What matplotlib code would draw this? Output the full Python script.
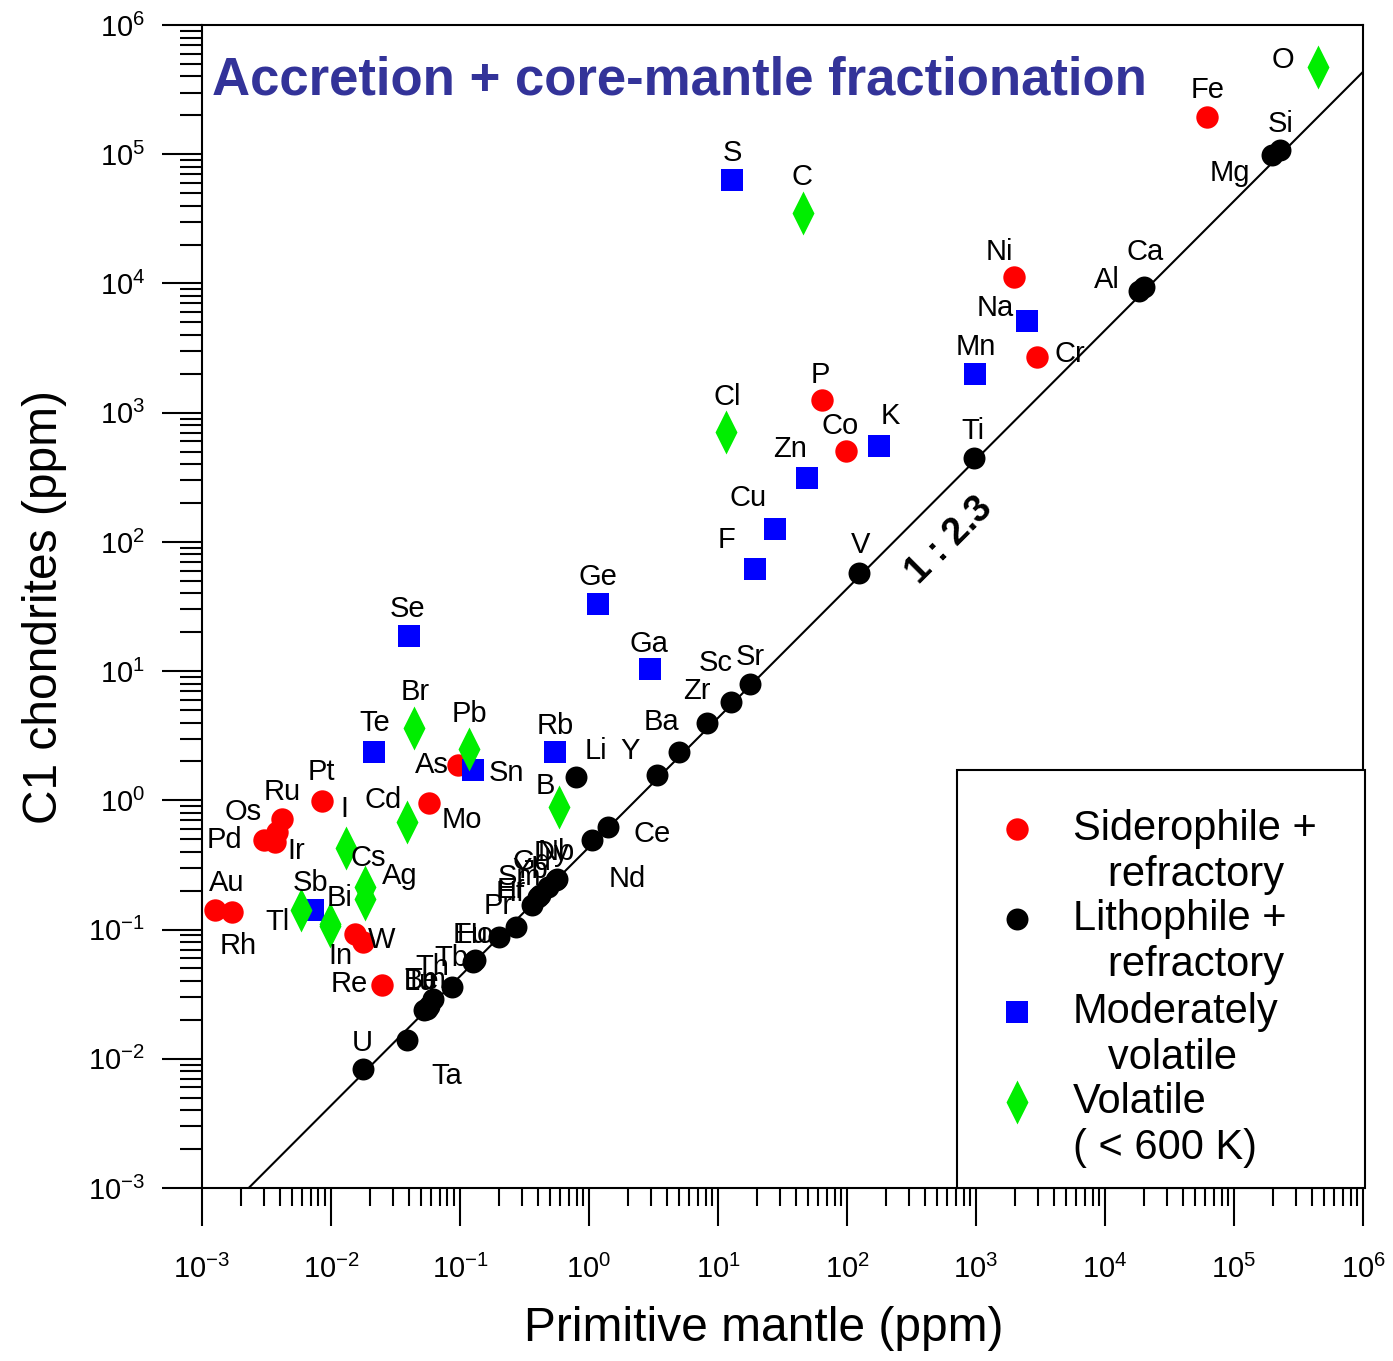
import numpy as np
import matplotlib.pyplot as plt
from matplotlib.path import Path
from matplotlib.patches import Rectangle
from matplotlib.ticker import LogLocator, LogFormatterSciNotation, NullFormatter

plt.rcParams['font.family'] = ['Liberation Sans', 'DejaVu Sans']
plt.rcParams['axes.unicode_minus'] = False

# primitive mantle (x) vs C1 chondrite (y) abundances, ppm
sid_el = ['Fe', 'Ni', 'Cr', 'P', 'Co', 'Mo', 'As', 'Pt', 'Ru', 'Os', 'Pd', 'Ir',
          'Au', 'Rh', 'W', '', 'Re']
sid_pm = [6.2e4, 1970, 2950, 64, 98, 0.058, 0.096, 0.0085, 0.0042, 0.0038, 0.0030,
          0.0037, 0.00126, 0.0017, 0.0154, 0.0178, 0.0247]
sid_c1 = [1.94e5, 1.12e4, 2680, 1250, 507, 0.95, 1.87, 0.99, 0.72, 0.57, 0.49,
          0.48, 0.143, 0.137, 0.093, 0.080, 0.0372]

lit_el = ['Si', 'Mg', 'Ca', 'Al', 'Ti', 'V', 'Sr', 'Sc', 'Zr', 'Ba', 'Y', 'Li',
          'Ce', 'Nd', 'Dy', 'Nb', 'Gd', 'Yb', 'Er', 'Sm', 'Hf', 'Pr', 'Eu', 'Ho',
          'Tb', 'Th', 'Be', 'Tm', 'Lu', 'Ta', 'U']
lit_pm = [2.28e5, 1.97e5, 2.0e4, 1.84e4, 964, 124.5, 17.7, 12.6, 8.16, 4.99, 3.35,
          0.79, 1.41, 1.05, 0.56, 0.55, 0.48, 0.42, 0.40, 0.36, 0.27, 0.20, 0.127,
          0.13, 0.086, 0.062, 0.055, 0.057, 0.053, 0.0386, 0.0178]
lit_c1 = [1.08e5, 9.87e4, 9370, 8730, 443, 57, 7.93, 5.79, 3.98, 2.38, 1.57, 1.52,
          0.617, 0.492, 0.248, 0.24, 0.214, 0.185, 0.178, 0.154, 0.105, 0.088,
          0.0563, 0.058, 0.036, 0.029, 0.0245, 0.0255, 0.024, 0.0141, 0.0084]

mod_el = ['S', 'Na', 'Mn', 'K', 'Zn', 'Cu', 'F', 'Ge', 'Ga', 'Rb', 'Sn', 'Te',
          'Se', 'Sb']
mod_pm = [12.9, 2480, 988, 177, 49, 27.8, 19.5, 1.17, 2.97, 0.545, 0.125, 0.0216,
          0.040, 0.0073]
mod_c1 = [63100, 5120, 2010, 555, 313, 127, 61.2, 33, 10.3, 2.35, 1.73, 2.35,
          18.7, 0.143]

vol_el = ['O', 'C', 'Cl', 'Br', 'Pb', 'B', 'Cd', 'I', 'Cs', 'Ag', 'Tl', 'Bi', 'In']
vol_pm = [4.5e5, 45.8, 11.5, 0.044, 0.118, 0.589, 0.039, 0.013, 0.0184, 0.0184,
          0.00585, 0.0098, 0.0099]
vol_c1 = [4.75e5, 34900, 711, 3.6, 2.48, 0.89, 0.682, 0.431, 0.214, 0.171, 0.141,
          0.110, 0.106]

ratio = 2.3

# label offsets from the marker, in pixels (dx, dy)
offsets = {
    'Fe': (0, 27), 'O': (-35, 7), 'Si': (0, 26), 'Mg': (-42, -18), 'Ni': (-15, 25),
    'Ca': (1, 35), 'Al': (-32, 11), 'Na': (-32, 13), 'Cr': (33, 3), 'Mn': (0, 27),
    'P': (-2, 25), 'Co': (-6, 25), 'K': (11, 30), 'Cl': (1, 35), 'Zn': (-17, 29),
    'Cu': (-27, 31), 'F': (-29, 29), 'Ti': (-1, 27), 'V': (1, 28), 'S': (0, 27),
    'C': (-1, 36), 'Ge': (0, 27), 'Ga': (-1, 25), 'Se': (-1, 27), 'Sc': (-15, 39),
    'Sr': (0, 27), 'Zr': (-10, 32), 'Ba': (-18, 30), 'Y': (-27, 24), 'Li': (20, 26),
    'Rb': (0, 26), 'B': (-14, 21), 'Br': (1, 36), 'Te': (1, 29), 'Pb': (0, 35),
    'As': (-26, 0), 'Sn': (34, -3), 'Cd': (-24, 22), 'Mo': (32, -17), 'Pt': (-1, 29),
    'Ru': (0, 27), 'Os': (-34, 20), 'Pd': (-39, 0), 'Ir': (21, -9), 'I': (-1, 39),
    'Cs': (3, 29), 'Ag': (35, 23), 'Au': (12, 27), 'Rh': (6, -34), 'Sb': (-3, 27),
    'Tl': (-23, -12), 'Bi': (10, 26), 'W': (26, -6), 'In': (10, -30), 'Re': (-32, 1),
    'U': (-1, 26), 'Ta': (40, -36), 'Ce': (44, -7), 'Nd': (36, -39), 'Dy': (-5, 26),
    'Nb': (1, 28), 'Gd': (-16, 25), 'Yb': (-10, 25), 'Er': (-26, 7), 'Sm': (-12, 28),
    'Hf': (-5, 34), 'Pr': (-1, 31), 'Eu': (-3, 27), 'Ho': (1, 25), 'Tb': (0, 29),
    'Th': (-1, 32), 'Be': (-5, 28), 'Tm': (-3, 26), 'Lu': (-5, 28),
}

fig = plt.figure(figsize=(13.93, 13.61), dpi=100)
ax = fig.add_axes([0.145, 0.1271, 0.8335, 0.8545])
ax.set_xscale('log')
ax.set_yscale('log')
ax.set_xlim(1e-3, 1e6)
ax.set_ylim(1e-3, 1e6)

# 1:2.3 reference line
xl = np.array([ratio * 1e-3, 1e6])
ax.plot(xl, xl / ratio, color='black', lw=1.5, zorder=1)

diamond = Path([(0, 1), (0.5, 0), (0, -1), (-0.5, 0), (0, 1)],
               [Path.MOVETO, Path.LINETO, Path.LINETO, Path.LINETO, Path.CLOSEPOLY])

groups = [
    (sid_el, sid_pm, sid_c1, '#ff0000', 'o', 260),
    (lit_el, lit_pm, lit_c1, '#000000', 'o', 250),
    (mod_el, mod_pm, mod_c1, '#0000ff', 's', 250),
    (vol_el, vol_pm, vol_c1, '#00ee00', diamond, 1000),
]
for z, (els, xs, ys, col, mk, sz) in enumerate(groups):
    ax.scatter(xs, ys, s=sz, c=col, marker=mk, linewidths=0, zorder=2 + z)
    for el, x, y in zip(els, xs, ys):
        if not el:
            continue
        dx, dy = offsets[el]
        ax.annotate(el, (x, y), xytext=(dx, dy), textcoords='offset pixels',
                    ha='center', va='center', fontsize=21, zorder=7)

ax.text(0.644, 0.557, '1 : 2.3', transform=ax.transAxes, rotation=45,
        rotation_mode='anchor', ha='center', va='center', fontsize=27,
        fontweight='bold')

ax.text(0.0086, 0.9527, 'Accretion + core-mantle fractionation',
        transform=ax.transAxes, ha='left', va='center', fontsize=38,
        fontweight='bold', color='#333399')

# axes styling
for sp in ax.spines.values():
    sp.set_linewidth(1.5)
for axis in (ax.xaxis, ax.yaxis):
    axis.set_major_locator(LogLocator(base=10, numticks=20))
    axis.set_minor_locator(LogLocator(base=10, subs=np.arange(2, 10), numticks=200))
    axis.set_major_formatter(LogFormatterSciNotation())
    axis.set_minor_formatter(NullFormatter())
ax.tick_params(which='both', direction='out', width=1.5, labelsize=21)
ax.tick_params(axis='y', which='major', length=29, pad=12)
ax.tick_params(axis='y', which='minor', length=15.5)
ax.tick_params(axis='x', which='major', length=27, pad=21)
ax.tick_params(axis='x', which='minor', length=13)

ax.set_xlabel('Primitive mantle (ppm)', fontsize=34.5)
ax.set_ylabel('C1 chondrites (ppm)', fontsize=34.5)
ax.xaxis.set_label_coords(0.484, -0.1015)
ax.yaxis.set_label_coords(-0.116, 0.5)

# legend box
ax.add_patch(Rectangle((0.6503, 0.0), 0.3514, 0.3594, transform=ax.transAxes,
                       facecolor='white', edgecolor='black', lw=1.5,
                       clip_on=False, zorder=10))
leg_rows = [
    ('#ff0000', 'o', 260, 0.3087, ['Siderophile +', '   refractory']),
    ('#000000', 'o', 250, 0.2313, ['Lithophile +', '   refractory']),
    ('#0000ff', 's', 250, 0.1513, ['Moderately', '   volatile']),
    ('#00ee00', diamond, 1000, 0.0739, ['Volatile', '( < 600 K)']),
]
for col, mk, sz, yy, lines in leg_rows:
    ax.scatter([0.702], [yy], s=sz, c=col, marker=mk, linewidths=0,
               transform=ax.transAxes, clip_on=False, zorder=11)
    ax.text(0.750, yy, lines[0], transform=ax.transAxes, ha='left', va='center',
            fontsize=30, zorder=11)
    ax.text(0.750, yy - 0.0395, lines[1], transform=ax.transAxes, ha='left',
            va='center', fontsize=30, zorder=11)

fig.savefig('out.png', dpi=100)
